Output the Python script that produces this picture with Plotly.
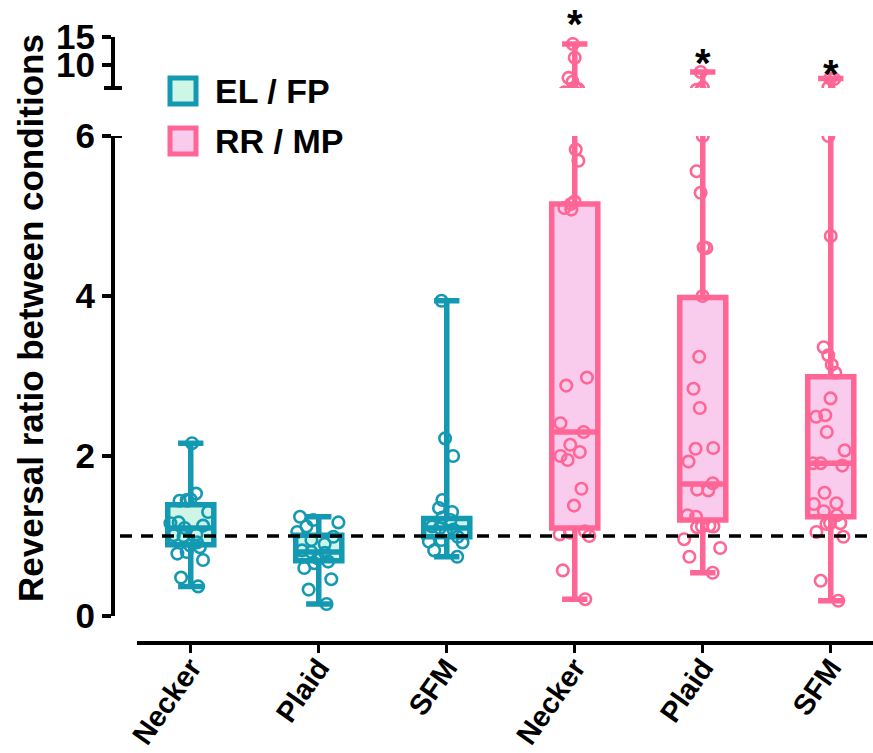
import plotly.graph_objects as go

# ---- data -------------------------------------------------------------
group_labels = ["Necker", "Plaid", "SFM", "Necker", "Plaid", "SFM"]
group_kind = ["EL / FP", "EL / FP", "EL / FP", "RR / MP", "RR / MP", "RR / MP"]

el_necker = [2.16, 1.53, 1.46, 1.45, 1.44, 1.44, 1.30, 1.17, 1.16, 1.13, 1.10,
             1.02, 1.01, 1.00, 0.92, 0.88, 0.86, 0.80, 0.78, 0.70, 0.48, 0.37]
el_plaid = [1.24, 1.20, 1.17, 1.12, 1.05, 0.99, 0.95, 0.90, 0.82, 0.80, 0.79,
            0.72, 0.68, 0.66, 0.60, 0.46, 0.33, 0.15]
el_sfm = [3.94, 2.22, 2.00, 1.45, 1.35, 1.30, 1.23, 1.20, 1.12, 1.10, 1.08,
          1.05, 0.99, 0.95, 0.93, 0.92, 0.82, 0.74]
rr_necker = [13.75, 11.3, 7.7, 7.0, 5.83, 5.69, 5.18, 5.15, 5.10, 5.08, 2.98,
             2.88, 2.41, 2.30, 2.14, 2.05, 2.00, 1.95, 1.59, 1.38, 1.06, 1.04,
             1.02, 1.00, 0.57, 0.21]
rr_plaid = [8.75, 6.00, 5.56, 5.29, 4.61, 4.60, 4.00, 3.24, 2.84, 2.60, 2.10,
            2.09, 1.93, 1.66, 1.58, 1.57, 1.26, 1.24, 1.13, 1.12, 1.12, 1.11,
            0.96, 0.85, 0.74, 0.54]
rr_sfm = [7.6, 7.5, 6.0, 4.75, 3.36, 3.26, 3.14, 3.04, 2.72, 2.51, 2.49, 2.30,
          2.07, 1.91, 1.91, 1.88, 1.54, 1.41, 1.40, 1.31, 1.26, 1.16, 1.16,
          1.15, 1.05, 0.99, 0.44, 0.19]

group_points = [el_necker, el_plaid, el_sfm, rr_necker, rr_plaid, rr_sfm]
box_q1 = [0.89, 0.69, 0.99, 1.10, 1.20, 1.24]
box_median = [1.10, 0.80, 1.10, 2.30, 1.65, 1.91]
box_q3 = [1.39, 1.01, 1.22, 5.15, 3.98, 2.99]
significant = [False, False, False, True, True, True]

y_ticks_low = [0, 2, 4, 6]
y_ticks_high = [10, 15]
reference_level = 1

# ---- style ------------------------------------------------------------
FONT = "Liberation Sans"
styles = {
    "EL / FP": dict(line="#1499B3", fill="#CDF6E6"),
    "RR / MP": dict(line="#FF6695", fill="#F9CCEE"),
}
# vertical nudge (px) of each significance star above its group maximum
star_shift = [0, 0, 0, 0, -11, -16]

# page geometry (pixels) used to place decorations in paper space
ML, MR, MT, MB = 113, 0, 20, 110
FW, FH = 873, 753
PW, PH = FW - ML - MR, FH - MT - MB


def px(x):
    return (x - ML) / PW


def py(y):
    return (FH - MB - y) / PH


fig = go.Figure()

for i, pts in enumerate(group_points):
    st = styles[group_kind[i]]
    for yax in ("y", "y2"):
        fig.add_trace(go.Box(
            x=[i], q1=[box_q1[i]], median=[box_median[i]], q3=[box_q3[i]],
            lowerfence=[min(pts)], upperfence=[max(pts)],
            width=0.36, whiskerwidth=0.55, boxpoints=False,
            line=dict(color=st["line"], width=5.5), fillcolor=st["fill"],
            yaxis=yax, showlegend=False, hoverinfo="skip",
        ))
        fig.add_trace(go.Box(
            x=[i] * len(pts), y=pts, width=0.36, boxpoints="all", jitter=1.0,
            pointpos=0, fillcolor="rgba(0,0,0,0)",
            line=dict(color="rgba(0,0,0,0)", width=0),
            marker=dict(symbol="circle-open", size=11.5, color=st["line"],
                        line=dict(width=2.6, color=st["line"])),
            yaxis=yax, showlegend=False, hoverinfo="skip",
        ))

shapes = []
# dashed reference level at 1
shapes.append(dict(type="line", xref="paper", yref="y", x0=px(120), x1=1,
                   y0=reference_level, y1=reference_level,
                   line=dict(color="black", width=3.5, dash="12px,9px"),
                   layer="above"))
# axis break caps
shapes.append(dict(type="line", xref="paper", yref="y", x0=px(104), x1=px(122),
                   y0=6, y1=6, line=dict(color="black", width=4)))
shapes.append(dict(type="line", xref="paper", yref="paper", x0=px(104), x1=px(122),
                   y0=py(88), y1=py(88), line=dict(color="black", width=4)))

annotations = []
# legend drawn as swatches + labels
for j, kind in enumerate(["EL / FP", "RR / MP"]):
    cy = 91 + 50 * j
    st = styles[kind]
    shapes.append(dict(type="rect", xref="paper", yref="paper",
                       x0=px(170), x1=px(196), y0=py(cy + 13), y1=py(cy - 13),
                       line=dict(color=st["line"], width=5), fillcolor=st["fill"]))
    annotations.append(dict(text=kind, xref="paper", yref="paper", x=px(213),
                            y=py(cy), xanchor="left", yanchor="middle",
                            showarrow=False,
                            font=dict(family=FONT, size=34, color="black",
                                      weight="bold")))

# significance stars above groups
for i, pts in enumerate(group_points):
    if significant[i]:
        annotations.append(dict(text="*", x=i, y=max(pts), xref="x", yref="y2",
                                yanchor="bottom", yshift=-4 + star_shift[i],
                                showarrow=False,
                                font=dict(family=FONT, size=40, color="black",
                                          weight="bold")))

# y-axis title
annotations.append(dict(text="Reversal ratio between conditions", xref="paper",
                        yref="paper", x=px(30), y=py(318), textangle=-90,
                        showarrow=False, xanchor="center", yanchor="middle",
                        font=dict(family=FONT, size=35, color="black",
                                  weight="bold")))

tick_font = dict(family=FONT, size=35, color="black", weight="bold")
axis_common = dict(showgrid=False, zeroline=False, showline=True, linecolor="black",
                   linewidth=4, ticks="outside", tickcolor="black", tickwidth=4,
                   ticklen=9, tickfont=tick_font, automargin=False)

fig.update_layout(
    width=FW, height=FH,
    margin=dict(l=ML, r=MR, t=MT, b=MB, autoexpand=False),
    paper_bgcolor="white", plot_bgcolor="white",
    boxmode="overlay", showlegend=False,
    xaxis=dict(domain=[px(137), 1], range=[-0.42, 5.33], anchor="free",
               position=0, tickvals=list(range(len(group_labels))),
               ticktext=group_labels, tickangle=-55, showgrid=False,
               zeroline=False, showline=True, linecolor="black", linewidth=4,
               ticks="outside", tickcolor="black", tickwidth=3, ticklen=8,
               automargin=False, ticklabelstandoff=-14,
               tickfont=dict(family=FONT, size=29, color="black", weight="bold")),
    yaxis=dict(domain=[py(616), py(136)], range=[0, 6], anchor="free",
               position=0, tickvals=y_ticks_low, **axis_common),
    yaxis2=dict(domain=[py(88), py(37)], range=[5.89, 15], anchor="free",
                position=0, tickvals=y_ticks_high, **axis_common),
    shapes=shapes, annotations=annotations,
)

fig.write_html("out.html")
